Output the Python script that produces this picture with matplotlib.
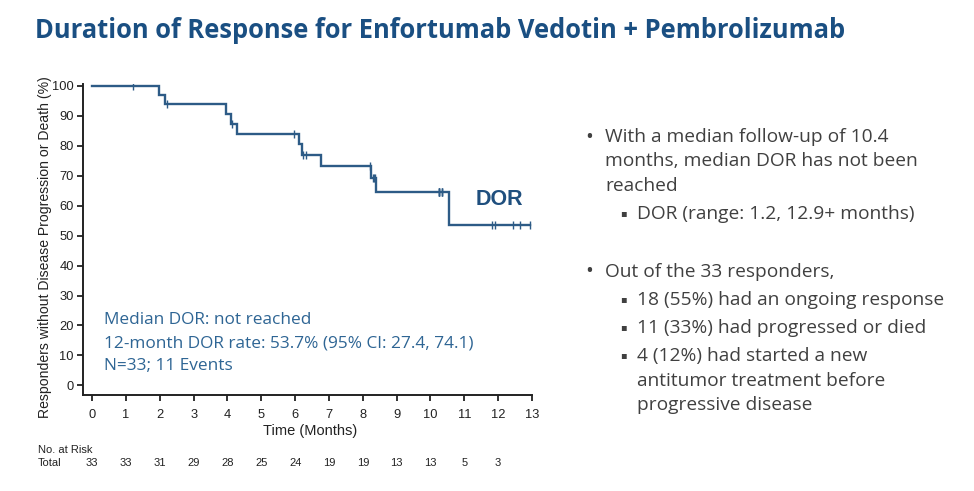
import matplotlib
matplotlib.use("Agg")
import matplotlib.pyplot as plt
import numpy as np

# ---------------- data ----------------
step_times = [0, 1.98, 2.15, 3.97, 4.10, 4.28, 6.10, 6.20, 6.75, 8.25, 8.40, 10.54]
step_surv = [100, 97.0, 93.8, 90.6, 87.4, 84.0, 80.5, 77.0, 73.2, 69.3, 64.4, 53.7]
end_time = 12.93
censor_times = [1.2, 2.2, 4.12, 5.98, 6.23, 6.33, 8.22, 8.30, 8.33, 8.36,
                10.25, 10.25, 10.25, 10.25, 10.35, 10.35, 10.35,
                11.83, 11.90, 12.44, 12.66, 12.93]
risk_times = list(range(0, 13))
risk_counts = [33, 33, 31, 29, 28, 25, 24, 19, 19, 13, 13, 5, 3]
x_ticks = list(range(0, 14))
y_ticks = list(range(0, 101, 10))

title = "Duration of Response for Enfortumab Vedotin + Pembrolizumab"
ann_lines = ["Median DOR: not reached",
             "12-month DOR rate: 53.7% (95% CI: 27.4, 74.1)",
             "N=33; 11 Events"]

# ---------------- figure ----------------
W, H = 974, 491
fig = plt.figure(figsize=(W / 100, H / 100), dpi=100)
fig.patch.set_facecolor("white")

def fx(px):
    return px / W

def fy(py):
    return 1 - py / H

ax = fig.add_axes([fx(83), fy(395), fx(532) - fx(83), fy(84) - fy(395)])

line_col = "#2d5b86"
xs = step_times + [end_time]
ys = step_surv + [step_surv[-1]]
ax.step(xs, ys, where="post", color=line_col, lw=1.7, solid_joinstyle="miter")
idx = np.searchsorted(step_times, censor_times, side="right") - 1
cy = [step_surv[i] for i in idx]
ax.plot(censor_times, cy, ls="none", marker="|", ms=6, mew=1.0, color=line_col)

ax.set_xlim(-0.27, 13.0)
ax.set_ylim(-3.2, 100.6)
ax.set_xticks(x_ticks)
ax.set_yticks(y_ticks)
axfont = "Liberation Sans"
for lab in ax.get_xticklabels() + ax.get_yticklabels():
    lab.set_fontfamily(axfont)
    lab.set_fontsize(9.3)
    lab.set_color("#222222")
ax.tick_params(direction="out", length=4, width=1.3, colors="#222222")
ax.tick_params(axis="x", pad=6)
ax.tick_params(axis="y", pad=2.5)
for s in ["top", "right"]:
    ax.spines[s].set_visible(False)
for s in ["left", "bottom"]:
    ax.spines[s].set_linewidth(1.4)
    ax.spines[s].set_color("#222222")

fig.text(fx(310), fy(431), "Time (Months)", fontfamily=axfont, fontsize=10.5,
         color="#222222", ha="center", va="center")
fig.text(fx(45), fy(247), "Responders without Disease Progression or Death (%)",
         rotation=90, ha="center", va="center", fontfamily=axfont, fontsize=10.1,
         color="#222222")

ax.text(11.33, 62.2, "DOR", fontfamily=axfont, fontweight="bold", fontsize=15.5,
        color="#1f4f7e", ha="left", va="center")

ann_col = "#2e6594"
for i, t in enumerate(ann_lines):
    fig.text(fx(104), fy(320 + i * 23), t, fontfamily="Open Sans", fontsize=12.4,
             color=ann_col, ha="left", va="center")

# at risk table
rfs = 8.0
fig.text(fx(38), fy(450), "No. at Risk", fontfamily=axfont, fontsize=rfs,
         color="#222222", ha="left", va="center")
fig.text(fx(38), fy(463), "Total", fontfamily=axfont, fontsize=rfs,
         color="#222222", ha="left", va="center")
for t, n in zip(risk_times, risk_counts):
    xp = ax.transData.transform((t, 0))[0]
    fig.text(xp / W, fy(463), str(n),
             fontfamily=axfont, fontsize=rfs, color="#222222", ha="center", va="center")

# title
fig.text(fx(35), fy(30), title, fontfamily="Open Sans", fontweight="bold", fontsize=18.4,
         color="#1a4f82", ha="left", va="center")

# right bullets
tcol = "#404040"
fs = 13.8
bullets = [
    (585, 605, 137, "•", "With a median follow-up of 10.4"),
    (None, 605, 161, None, "months, median DOR has not been"),
    (None, 605, 186, None, "reached"),
    (620, 637, 214, "▪", "DOR (range: 1.2, 12.9+ months)"),
    (585, 605, 272, "•", "Out of the 33 responders,"),
    (620, 637, 300, "▪", "18 (55%) had an ongoing response"),
    (620, 637, 328, "▪", "11 (33%) had progressed or died"),
    (620, 637, 356, "▪", "4 (12%) had started a new"),
    (None, 637, 381, None, "antitumor treatment before"),
    (None, 637, 405, None, "progressive disease"),
]
for bx, tx, ty, b, t in bullets:
    if b is not None:
        fig.text(fx(bx), fy(ty), b, fontfamily=["Open Sans", "DejaVu Sans"],
                 fontsize=7 if b == "▪" else 15, color=tcol, ha="left", va="center")
    fig.text(fx(tx), fy(ty), t, fontfamily="Open Sans", fontsize=fs, color=tcol,
             ha="left", va="center")

fig.savefig("out.png", dpi=100)
